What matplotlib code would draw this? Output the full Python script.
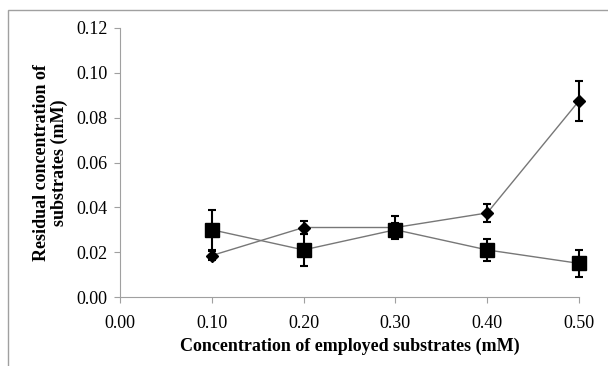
import numpy as np
import matplotlib.pyplot as plt
from matplotlib.patches import Rectangle

# valeurs
conc = [0.10, 0.20, 0.30, 0.40, 0.50]
losange = [0.0185, 0.031, 0.031, 0.0375, 0.0875]
losange_err = [0.002, 0.003, 0.005, 0.004, 0.009]
carre = [0.030, 0.021, 0.030, 0.021, 0.015]
carre_err = [0.009, 0.007, 0.003, 0.005, 0.006]

xticks = [0.0, 0.1, 0.2, 0.3, 0.4, 0.5]
yticks = [0.0, 0.02, 0.04, 0.06, 0.08, 0.10, 0.12]

plt.rcParams['font.family'] = ['Liberation Serif', 'DejaVu Serif']

fig = plt.figure(figsize=(6.08, 3.66), dpi=100)
ax = fig.add_axes([120/608, 1-297/366, (579-120)/608, (297-28)/366])

# cadre gris autour du graphe
fig.patches.append(Rectangle((8/608, -0.1), 1.2, 1.1-10/366, transform=fig.transFigure,
                             fill=False, edgecolor='#a0a0a0', lw=1))

ax.plot(conc, losange, color='#777777', lw=1, zorder=2, clip_on=False)
ax.plot(conc, carre, color='#777777', lw=1, zorder=2, clip_on=False)
e1 = ax.errorbar(conc, losange, yerr=losange_err, fmt='D', color='black', ms=6.5,
                 ecolor='black', elinewidth=1.5, capsize=3, capthick=1.5, zorder=3)
e2 = ax.errorbar(conc, carre, yerr=carre_err, fmt='s', color='black', ms=10,
                 ecolor='black', elinewidth=1.5, capsize=3, capthick=1.5, zorder=4)
for e in (e1, e2):
    for art in e.get_children():
        art.set_clip_on(False)

ax.set_xlim(0, 0.5)
ax.set_ylim(0, 0.12)
ax.set_xticks(xticks)
ax.set_yticks(yticks)
ax.set_xticklabels([f"{v:.2f}" for v in xticks], fontsize=13)
ax.set_yticklabels([f"{v:.2f}" for v in yticks], fontsize=13)
ax.spines['top'].set_visible(False)
ax.spines['right'].set_visible(False)
for s in ['left', 'bottom']:
    ax.spines[s].set_color('#a0a0a0')
ax.tick_params(color='#a0a0a0', length=4, direction='out')
ax.tick_params(axis='x', pad=9)
ax.tick_params(axis='y', pad=5)

ax.set_xlabel("Concentration of employed substrates (mM)", fontsize=13, fontweight='bold',
              labelpad=4)
ax.set_ylabel("Residual concentration of\nsubstrates (mM)", fontsize=13, fontweight='bold',
              linespacing=1.0, labelpad=6)

fig.savefig("out.png", dpi=100)
